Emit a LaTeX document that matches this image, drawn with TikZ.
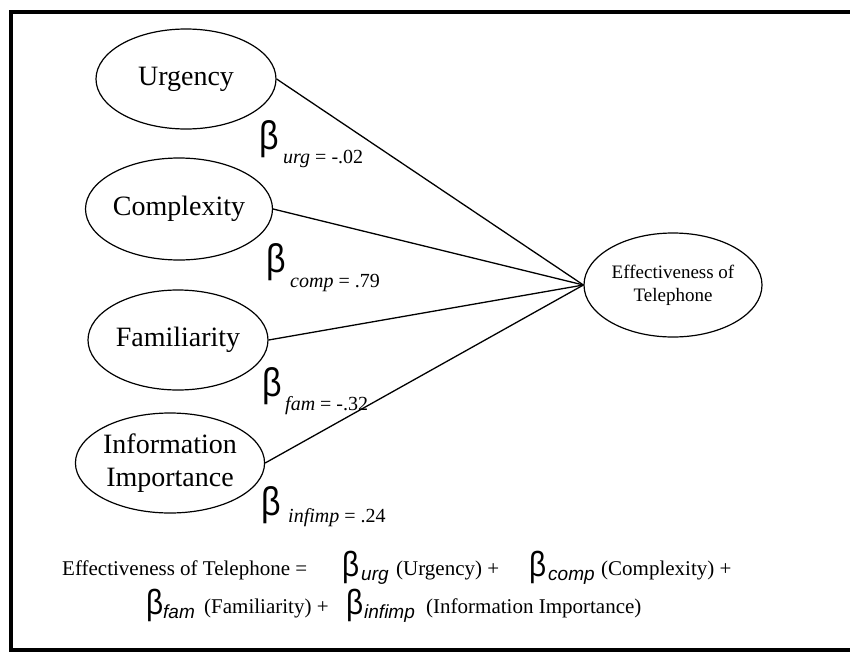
\documentclass[tikz,border=0pt]{standalone}
\usepackage{fontspec}
\setmainfont{Liberation Serif}
\newfontfamily\sansf{Liberation Sans}
\usetikzlibrary{shapes.geometric}
\begin{document}
\begin{tikzpicture}[x=1pt,y=-1pt,
  var/.style={draw, ellipse, line width=1.2pt, inner sep=0pt, minimum width=180pt, minimum height=100pt, font=\fontsize{28}{33}\selectfont, align=center},
  conn/.style={line width=1.3pt},
  bet/.style={inner sep=0pt, anchor=base west, font=\sansf\fontsize{40}{40}\selectfont},
  sub/.style={inner sep=0pt, anchor=base west, font=\fontsize{20}{20}\selectfont},
  eq/.style={inner sep=0pt, anchor=base west, font=\fontsize{21}{21}\selectfont},
  ebet/.style={inner sep=0pt, anchor=base west, font=\sansf\fontsize{35}{35}\selectfont},
  esub/.style={inner sep=0pt, anchor=base west, font=\sansf\itshape\fontsize{19}{19}\selectfont}]
\useasboundingbox (0,0) rectangle (850,653);
% frame
\draw[line width=3.5pt] (850,12) -- (11,12) -- (11,650) -- (850,650);
% variables
\node[var] (urg) at (186,79) {Urgency};
\node[var, minimum height=102pt] (comp) at (179,209) {Complexity};
\node[var] (fam) at (178,340) {Familiarity};
\node[var, minimum width=178pt] (inf) at (170,463) {Information\\Importance};
\node[var, minimum width=178pt, minimum height=104pt, font=\fontsize{19}{23}\selectfont] (eff) at (673,285) {Effectiveness of\\Telephone};
% connectors
\draw[conn] (urg.east) -- (eff.west);
\draw[conn] (comp.east) -- (eff.west);
\draw[conn] (fam.east) -- (eff.west);
\draw[conn] (inf.east) -- (eff.west);
% coefficient labels
\node[bet] (b1) at (259,149) {\scalebox{0.85}[1]{β}};
\node[sub] (s1) at (283,163) {\itshape urg\upshape{} = -.02};
\node[bet] (b2) at (266,272) {\scalebox{0.85}[1]{β}};
\node[sub] (s2) at (290,287) {\itshape comp\upshape{} = .79};
\node[bet] (b3) at (262,396) {\scalebox{0.85}[1]{β}};
\node[sub] (s3) at (285,410) {\itshape fam\upshape{} = -.32};
\node[bet] (b4) at (261,515) {\scalebox{0.85}[1]{β}};
\node[sub] (s4) at (288,522) {\itshape infimp\upshape{} = .24};
% equation
\node[eq] (e0) at (62,575) {Effectiveness of Telephone =};
\node[ebet] (eb1) at (342,576) {\scalebox{0.85}[1]{β}};
\node[esub] (es1) at (361,580) {urg};
\node[eq] (e1) at (396,575) {(Urgency) +};
\node[ebet] (eb2) at (529,576) {\scalebox{0.85}[1]{β}};
\node[esub] (es2) at (548,580) {comp};
\node[eq] (e2) at (601,575) {(Complexity) +};
\node[ebet] (eb3) at (146,614) {\scalebox{0.85}[1]{β}};
\node[esub] (es3) at (163,618) {fam};
\node[eq] (e3) at (204,613) {(Familiarity) +};
\node[ebet] (eb4) at (346,614) {\scalebox{0.85}[1]{β}};
\node[esub] (es4) at (364,618) {infimp};
\node[eq] (e4) at (426,613) {(Information Importance)};
\end{tikzpicture}
\end{document}
